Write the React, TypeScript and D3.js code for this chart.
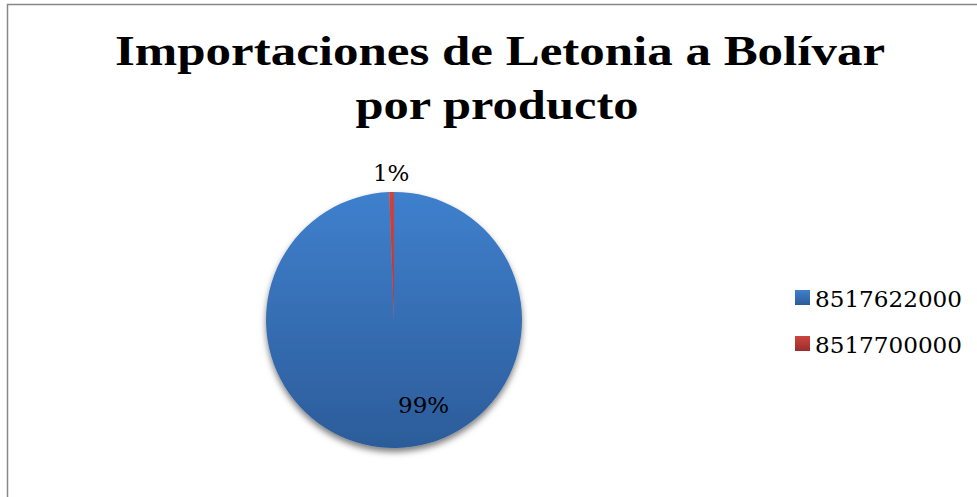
import React from "react";
import * as d3 from "d3";

const categories = ["8517622000", "8517700000"];
const shares = [99.4, 0.6];
const labels = ["99%", "1%"];
const titleLines = ["Importaciones de Letonia a Bolívar", "por producto"];

const W = 977;
const H = 497;
const cx = 394;
const cy = 320;
const R = 128;

const fills = [
  { id: "gBlue", top: "#3f80cd", bottom: "#2c5c9a" },
  { id: "gRed", top: "#cc4440", bottom: "#9a2e2b" },
];

export default function App() {
  const pie = d3
    .pie<number>()
    .sort(null)
    .value((d) => d)
    .startAngle(0)
    .endAngle(2 * Math.PI);
  const arcs = pie(shares);
  const arc = d3.arc<d3.PieArcDatum<number>>().innerRadius(0).outerRadius(R);
  const outerLabelArc = d3
    .arc<d3.PieArcDatum<number>>()
    .innerRadius(R + 19)
    .outerRadius(R + 19);
  const innerLabelArc = d3
    .arc<d3.PieArcDatum<number>>()
    .innerRadius(R * 0.66)
    .outerRadius(R * 0.66);

  const serif = "'DejaVu Serif', 'Liberation Serif', serif";
  const titleFont = "'Liberation Serif', 'DejaVu Serif', serif";

  return (
    <svg
      width={W}
      height={H}
      style={{ position: "absolute", left: 0, top: 0, background: "#fff" }}
    >
      <defs>
        {fills.map((f) => (
          <linearGradient key={f.id} id={f.id} x1="0" y1="0" x2="0" y2="1">
            <stop offset="0%" stopColor={f.top} />
            <stop offset="100%" stopColor={f.bottom} />
          </linearGradient>
        ))}
        <filter id="shadow" x="-20%" y="-20%" width="140%" height="140%">
          <feDropShadow dx="0" dy="4" stdDeviation="3" floodColor="#000" floodOpacity="0.5" />
        </filter>
        <linearGradient id="pieGrad" gradientUnits="userSpaceOnUse" x1="0" y1={-R} x2="0" y2={R}>
          <stop offset="0%" stopColor={fills[0].top} />
          <stop offset="100%" stopColor={fills[0].bottom} />
        </linearGradient>
        <linearGradient id="pieGradRed" gradientUnits="userSpaceOnUse" x1="0" y1={-R} x2="0" y2={R}>
          <stop offset="0%" stopColor={fills[1].top} />
          <stop offset="100%" stopColor={fills[1].bottom} />
        </linearGradient>
      </defs>

      <rect x={7.5} y={4.5} width={1100} height={1100} fill="none" stroke="#888" strokeWidth={1.5} />

      <g fontFamily={titleFont} fontWeight="bold" textAnchor="middle" fill="#000">
        <text x={500} y={65} fontSize={43} textLength={770} lengthAdjust="spacingAndGlyphs">
          {titleLines[0]}
        </text>
        <text x={497} y={119} fontSize={43} textLength={283} lengthAdjust="spacingAndGlyphs">
          {titleLines[1]}
        </text>
      </g>

      <g transform={`translate(${cx},${cy})`}>
        <g filter="url(#shadow)">
          {arcs.map((a, i) => (
            <path
              key={categories[i]}
              d={arc(a) || ""}
              fill={i === 0 ? "url(#pieGrad)" : "url(#pieGradRed)"}
            />
          ))}
        </g>
        {arcs.map((a, i) => {
          const big = a.endAngle - a.startAngle > Math.PI / 4;
          const [lx, ly] = big ? innerLabelArc.centroid(a) : outerLabelArc.centroid(a);
          return (
            <text
              key={"l" + i}
              x={lx + (big ? 28 : 0)}
              y={ly}
              dy="0.36em"
              textAnchor="middle"
              fontFamily={serif}
              fontSize={23}
              fill="#000"
            >
              {labels[i]}
            </text>
          );
        })}
      </g>

      <g fontFamily={serif} fontSize={23} fill="#000">
        {categories.map((c, i) => (
          <g key={c} transform={`translate(795,${290 + i * 46})`}>
            <rect width={15} height={15} fill={`url(#${fills[i].id})`} />
            <text x={20} y={17} textLength={147} lengthAdjust="spacingAndGlyphs">
              {c}
            </text>
          </g>
        ))}
      </g>
    </svg>
  );
}
